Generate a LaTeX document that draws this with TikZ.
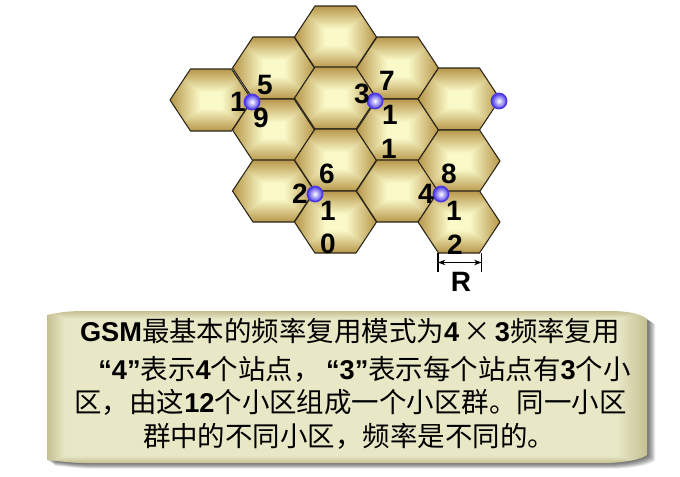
\documentclass[tikz,border=0pt]{standalone}
\usepackage{fontspec}
\setmainfont{Liberation Sans}
\newfontfamily\cjkfont{Noto Sans CJK SC}
\usetikzlibrary{positioning, arrows.meta}

\definecolor{hexline}{HTML}{2A2618}
\definecolor{dotring}{HTML}{4A38E8}

\pgfdeclarefunctionalshading{hexglow}{\pgfpoint{-50bp}{-50bp}}{\pgfpoint{50bp}{50bp}}{}{
  abs exch abs 2 copy lt {exch} if pop 25 div
  dup 0.25 lt {pop 0} {0.25 sub 0.75 div} ifelse
  dup 1 gt {pop 1} if
  dup 0.26 mul 0.98 exch sub exch
  dup 0.39 mul 0.98 exch sub exch
  0.50 mul 0.79 exch sub
}
\pgfdeclarefunctionalshading{boxglow}{\pgfpoint{-50bp}{-50bp}}{\pgfpoint{50bp}{50bp}}{}{
  abs 22.5 sub 2.5 div exch
  dup 0 lt {neg 23.5 sub 1.5 div} {22.5 sub 2.5 div} ifelse
  2 copy lt {exch} if pop
  dup 0 lt {pop 0} if
  dup 1 gt {pop 1} if
  dup 0.14 mul 0.91 exch sub exch
  dup 0.16 mul 0.91 exch sub exch
  0.21 mul 0.78 exch sub
}

\newcommand{\zh}[1]{{\cjkfont\mdseries\fontsize{20.6}{24}\selectfont #1}}
\newcommand{\boxoutline}{(47,315) .. controls (60,312) and (70,311) .. (85,311) -- (610,311)
  .. controls (625,311) and (640,313) .. (647,319) -- (647,455)
  .. controls (640,460) and (625,462) .. (610,463) -- (85,463)
  .. controls (70,463) and (60,461) .. (47,460) -- cycle}

\tikzset{
  hexcell/.style={shade, shading=hexglow, draw=hexline, line width=0.8pt, line join=round},
  sitedot/.style={circle, minimum size=11.5pt, inner sep=0pt, draw=dotring, line width=1.1pt,
    inner color=white, outer color=dotring},
  digit/.style={font=\bfseries\fontsize{21}{23}\selectfont, inner sep=0pt, text=black},
  textline/.style={font=\bfseries\fontsize{20.4}{24}\selectfont, inner sep=0pt, text=black},
}

\begin{document}
\begin{tikzpicture}[x=0.75pt, y=-0.75pt, on grid]
  \useasboundingbox (0,0) rectangle (680,476);

  % cells
  \foreach \x/\y in {211/100, 273.5/68, 273.5/130, 273.5/191, 335.5/37, 335.5/98, 335.5/160,
                     335.5/222, 397.5/68, 397.5/130, 397.5/191, 459/99, 459/161, 459/222} {
    \path[hexcell, shift={(\x,\y)}] (-41,0) -- (-20.5,-31) -- (20.5,-31) -- (41,0)
      -- (20.5,31) -- (-20.5,31) -- cycle;
  }

  % sites
  \node[sitedot] (s1) at (252,102) {};
  \node[sitedot] (s3) at (375,101) {};
  \node[sitedot] (s5) at (499,101) {};
  \node[sitedot] (s2) at (315,194) {};
  \node[sitedot] (s4) at (441,194) {};

  \node[digit, left=10.5pt of s1] (c1) {1};
  \node[digit, above right=12.75pt and 9.75pt of s1] (c5) {5};
  \node[digit, below right=12pt and 6.75pt of s1] (c9) {9};

  \node[digit, above left=5.25pt and 9.75pt of s3] (c3) {3};
  \node[digit, above right=15pt and 9pt of s3] (c7) {7};
  \node[digit, below right=10.5pt and 11.25pt of s3] (c11a) {1};
  \node[digit, below right=36pt and 10.5pt of s3] (c11b) {1};

  \node[digit, left=11.25pt of s2] (c2) {2};
  \node[digit, above right=15pt and 9pt of s2] (c6) {6};
  \node[digit, below right=12.75pt and 9.75pt of s2] (c10a) {1};
  \node[digit, below right=37.5pt and 9.75pt of s2] (c10b) {0};

  \node[digit, left=11.25pt of s4] (c4) {4};
  \node[digit, above right=15pt and 6pt of s4] (c8) {8};
  \node[digit, below right=12.75pt and 9.75pt of s4] (c12a) {1};
  \node[digit, below right=38.25pt and 10.5pt of s4] (c12b) {2};

  % radius mark
  \coordinate (ra) at (438,253);
  \coordinate (rb) at (481.5,253);
  \coordinate (rc) at (438,272);
  \coordinate (rd) at (481.5,272);
  \coordinate (re) at (438,262.5);
  \coordinate (rf) at (481.5,262.5);
  \draw[line width=1.4pt] (ra) -- (rc);
  \draw[line width=1.4pt] (rb) -- (rd);
  \draw[{Stealth[length=5.5pt]}-{Stealth[length=5.5pt]}, line width=1.1pt] (re) -- (rf);
  \node[digit] (rlabel) at (461,282) {R};

  % note
  \foreach \d in {1,...,8} {
    \fill[black, opacity=0.09, shift={(\d,0.7*\d)}] \boxoutline;
  }
  \path[shade, shading=boxglow] \boxoutline;

  \node[textline] (l1) at (350,331) {GSM\zh{最基本的频率复用模式为}4\hspace{0.15em}\zh{×}\hspace{0.15em}3\zh{频率复用}};
  \node[textline] (l2) at (364.5,369) {“4”\zh{表示}4\zh{个站点，\hspace{0.2em}}“3”\zh{表示每个站点有}3\zh{个小}};
  \node[textline] (l3) at (350.5,402) {\zh{区，由这}12\zh{个小区组成一个小区群。同一小区}};
  \node[textline] (l4) at (349,436) {\zh{群中的不同小区，频率是不同的。}};
\end{tikzpicture}
\end{document}
